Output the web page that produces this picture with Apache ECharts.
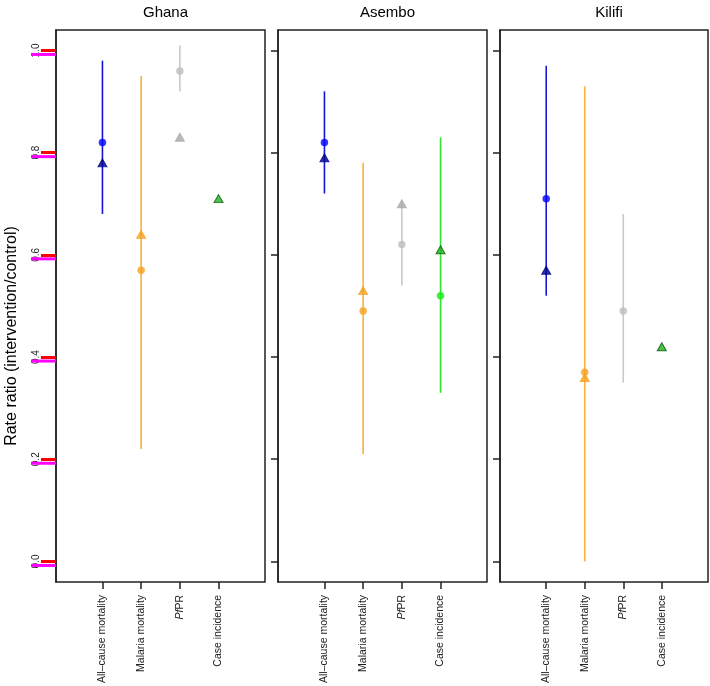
<!DOCTYPE html>
<html>
<head>
<meta charset="utf-8">
<script src="https://cdn.jsdelivr.net/npm/echarts@6/dist/echarts.min.js"></script>
<style>
  html, body { margin: 0; padding: 0; background: #fff; }
  #chart { width: 710px; height: 686px; }
</style>
</head>
<body>
<div id="chart"></div>
<script>
// outcomes, one position each on the x axis (1..4)
var outcomes = ['All\u2013cause mortality', 'Malaria mortality', 'PfPR', 'Case incidence'];
var sites = ['Ghana', 'Asembo', 'Kilifi'];
var yTicks = [0.0, 0.2, 0.4, 0.6, 0.8, 1.0];

// circle estimates with their intervals, plus triangle estimates
var ghanaCircle = [0.82, 0.57, 0.96, null];
var ghanaLow    = [0.68, 0.22, 0.92, null];
var ghanaHigh   = [0.98, 0.95, 1.01, null];
var ghanaTri    = [0.78, 0.64, 0.83, 0.71];

var asemboCircle = [0.82, 0.49, 0.62, 0.52];
var asemboLow    = [0.72, 0.21, 0.54, 0.33];
var asemboHigh   = [0.92, 0.78, 0.70, 0.83];
var asemboTri    = [0.79, 0.53, 0.70, 0.61];

var kilifiCircle = [0.71, 0.37, 0.49, null];
var kilifiLow    = [0.52, 0.00, 0.35, null];
var kilifiHigh   = [0.97, 0.93, 0.68, null];
var kilifiTri    = [0.57, 0.36, null, 0.42];

var circles = [ghanaCircle, asemboCircle, kilifiCircle];
var lows = [ghanaLow, asemboLow, kilifiLow];
var highs = [ghanaHigh, asemboHigh, kilifiHigh];
var tris = [ghanaTri, asemboTri, kilifiTri];

// colours per outcome
var lineColors = ['#1515d6', '#fbb13a', '#c9c9c9', '#2de62d'];
var circleColors = ['#0000ff', '#f7a11f', '#bdbdbd', '#11ee11'];
var triColors = ['#00008b', '#f7a11f', '#a9a9a9', '#20b020'];
var triBorders = ['#00008b', '#f7a11f', '#a9a9a9', '#005a00'];

var xMin = -0.2, xMax = 5.2;

var myChart = echarts.init(document.getElementById('chart'));

var panels = [
  { left: 56, width: 209 },
  { left: 278, width: 209 },
  { left: 500, width: 208 }
];

var font = 'Liberation Sans, Arial, sans-serif';

var grids = [], xAxes = [], yAxes = [], series = [], titles = [];

panels.forEach(function (p, i) {
  grids.push({
    left: p.left, top: 30, width: p.width, height: 553,
    show: true, borderColor: '#222', borderWidth: 1.5, backgroundColor: 'transparent'
  });
  titles.push({
    text: sites[i], left: p.left + p.width / 2, top: 0, textAlign: 'center',
    textStyle: { fontFamily: font, fontSize: 15, fontWeight: 'normal', color: '#000' }
  });
  xAxes.push({
    type: 'value', gridIndex: i, min: xMin, max: xMax,
    splitLine: { show: false },
    axisLine: { show: false, onZero: false },
    axisTick: { show: true, length: 7, lineStyle: { color: '#222', width: 1.5 }, customValues: [1, 2, 3, 4] },
    axisLabel: {
      customValues: [1, 2, 3, 4], rotate: 90, margin: 13,
      fontFamily: font, fontSize: 10.5, color: '#222',
      formatter: function (v) {
        var name = outcomes[Math.round(v) - 1];
        return name === 'PfPR' ? '{i|Pf}PR' : name;
      },
      rich: { i: { fontStyle: 'italic', fontFamily: font, fontSize: 10.5, color: '#222' } }
    }
  });
  yAxes.push({
    type: 'value', gridIndex: i, min: -0.04, max: 1.04,
    splitLine: { show: false },
    axisLine: { show: true, onZero: false, lineStyle: { color: '#222', width: 1.5 } },
    axisTick: { show: true, length: i === 0 ? 15 : 7, lineStyle: { color: i === 0 ? 'red' : '#222', width: i === 0 ? 3 : 1.5 }, customValues: yTicks },
    axisLabel: {
      show: i === 0, customValues: yTicks, rotate: 90, margin: 15,
      fontFamily: font, fontSize: 10, color: '#222',
      formatter: function (v) { return v.toFixed(1); }
    }
  });

  var barData = [], circData = [], triData = [];
  for (var k = 0; k < outcomes.length; k++) {
    if (lows[i][k] != null) barData.push([k + 1, lows[i][k], highs[i][k]]);
    if (tris[i][k] != null) {
      triData.push({
        value: [k + 1, tris[i][k]],
        itemStyle: { color: triColors[k], borderColor: triBorders[k], borderWidth: 1 }
      });
    }
    if (circles[i][k] != null) {
      circData.push({ value: [k + 1, circles[i][k]], itemStyle: { color: circleColors[k] } });
    }
  }

  series.push({
    type: 'custom', xAxisIndex: i, yAxisIndex: i, data: barData,
    encode: { x: 0, y: [1, 2] },
    renderItem: function (params, api) {
      var x = api.value(0);
      var a = api.coord([x, api.value(1)]);
      var b = api.coord([x, api.value(2)]);
      return {
        type: 'line',
        shape: { x1: a[0], y1: a[1], x2: b[0], y2: b[1] },
        style: { stroke: lineColors[x - 1], lineWidth: 1.6 }
      };
    },
    silent: true, z: 2
  });
  series.push({
    type: 'scatter', xAxisIndex: i, yAxisIndex: i, data: triData,
    symbol: 'triangle', symbolSize: [9, 8],
    silent: true, z: 3
  });
  series.push({
    type: 'scatter', xAxisIndex: i, yAxisIndex: i, data: circData,
    symbol: 'circle', symbolSize: 7.5,
    silent: true, z: 4
  });
});

series.push({
  type: 'custom', xAxisIndex: 0, yAxisIndex: 0, clip: false,
  data: yTicks.map(function (v) { return [xMin, v]; }),
  renderItem: function (params, api) {
    var pt = api.coord([api.value(0), api.value(1)]);
    return {
      type: 'line',
      shape: { x1: pt[0] - 25, y1: pt[1] + 4, x2: pt[0], y2: pt[1] + 4 },
      style: { stroke: 'magenta', lineWidth: 3 }
    };
  },
  silent: true, z: 5
});

var option = {
  animation: false,
  backgroundColor: '#fff',
  title: titles,
  grid: grids,
  xAxis: xAxes,
  yAxis: yAxes,
  series: series,
  graphic: [{
    type: 'text', x: 12, y: 336, rotation: Math.PI / 2,
    style: {
      text: 'Rate ratio (intervention/control)', fontFamily: font, fontSize: 16,
      fill: '#000', align: 'center', verticalAlign: 'middle'
    }
  }]
};

myChart.setOption(option);
</script>
</body>
</html>
